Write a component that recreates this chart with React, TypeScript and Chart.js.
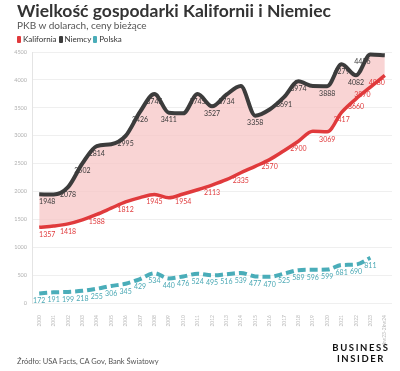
import React, { useEffect, useRef } from "react";
import { Chart, registerables } from "chart.js";

Chart.register(...registerables);

const categories = [
  "2000", "2001", "2002", "2003", "2004", "2005", "2006", "2007", "2008", "2009",
  "2010", "2011", "2012", "2013", "2014", "2015", "2016", "2017", "2018", "2019",
  "2020", "2021", "2022", "2023", "3kw23-2kw24",
];

const california = [
  1357, 1380, 1418, 1490, 1588, 1700, 1812, 1890, 1945, 1885,
  1954, 2030, 2113, 2210, 2335, 2450, 2570, 2730, 2900, 3080,
  3069, 3417, 3660, 3870, 4080,
];

const germany = [
  1948, 1945, 2078, 2502, 2814, 2846, 2995, 3426, 3745, 3411,
  3400, 3745, 3527, 3734, 3889, 3358, 3469, 3691, 3974, 3889,
  3888, 4279, 4082, 4456, 4440,
];

const poland = [
  172, 191, 199, 218, 255, 306, 345, 429, 534, 440,
  476, 524, 495, 516, 539, 477, 470, 525, 589, 596,
  599, 681, 690, 811, null,
];

const californiaShown = [0, 2, 4, 6, 8, 10, 12, 14, 16, 18, 20, 21, 22, 23, 24];
const germanyShown = [0, 2, 3, 4, 6, 7, 8, 9, 11, 12, 13, 15, 17, 18, 20, 21, 22, 23];
const polandShown = [
  0, 1, 2, 3, 4, 5, 6, 7, 8, 9, 10, 11, 12, 13, 14, 15, 16, 17, 18, 19, 20, 21, 22, 23,
];

const seriesNames = ["Kalifornia", "Niemcy", "Polska"];
const yTicks = { min: 0, max: 4500, step: 500 };

const RED = "#e03a3c";
const DARK = "#3c3c3c";
const TEAL = "#4aadb9";
const FILL = "rgba(247, 196, 196, 0.72)";

const labelPlugin = {
  id: "pointLabels",
  afterDatasetsDraw(chart: any) {
    const ctx = chart.ctx;
    const shownSets = [californiaShown, germanyShown, polandShown];
    const colors = [RED, "#3a3a3a", "#4aa8b4"];
    ctx.save();
    ctx.font = "7px Lato";
    ctx.textAlign = "center";
    ctx.textBaseline = "middle";
    const n = categories.length;
    chart.data.datasets.forEach((ds: any, di: number) => {
      const meta = chart.getDatasetMeta(di);
      ctx.fillStyle = colors[di];
      shownSets[di].forEach((i: number) => {
        const el = meta.data[i];
        const v = ds.data[i];
        if (!el || v == null) return;
        let dx = 0;
        if (di < 2) {
          if (i === 0) dx = 8;
          if (i >= n - 2) dx = -8;
        }
        ctx.fillText(String(v), el.x + dx, el.y + 7.5);
      });
    });
    ctx.restore();
  },
};

function ChartCanvas() {
  const ref = useRef<HTMLCanvasElement | null>(null);
  useEffect(() => {
    if (!ref.current) return;
    const chart = new Chart(ref.current, {
      type: "line",
      data: {
        labels: categories,
        datasets: [
          {
            label: seriesNames[0],
            data: california,
            borderColor: RED,
            borderWidth: 3.5,
            pointRadius: 0,
            cubicInterpolationMode: "monotone",
            fill: false,
          },
          {
            label: seriesNames[1],
            data: germany,
            borderColor: DARK,
            borderWidth: 4,
            pointRadius: 0,
            cubicInterpolationMode: "monotone",
            fill: { target: 0 },
            backgroundColor: FILL,
          },
          {
            label: seriesNames[2],
            data: poland,
            borderColor: TEAL,
            borderWidth: 4,
            borderDash: [8, 4],
            pointRadius: 0,
            cubicInterpolationMode: "monotone",
            fill: false,
          },
        ],
      } as any,
      options: {
        animation: false,
        responsive: false,
        maintainAspectRatio: false,
        layout: { padding: { left: 0, right: 8, top: 52, bottom: 26 } },
        plugins: {
          legend: { display: false },
          tooltip: { enabled: false },
          filler: { drawTime: "beforeDatasetsDraw" },
        } as any,
        scales: {
          x: {
            offset: true,
            grid: { display: false },
            border: { display: false },
            ticks: {
              autoSkip: false,
              maxRotation: 90,
              minRotation: 90,
              font: { size: 5, family: "Lato" },
              color: "#b8b8b8",
              padding: 4,
            },
            afterFit: (s: any) => {
              s.height = 42;
            },
          },
          y: {
            min: yTicks.min,
            max: yTicks.max,
            ticks: {
              stepSize: yTicks.step,
              font: { size: 5.5, family: "Lato" },
              color: "#b0b0b0",
              padding: 5,
              callback: (v: any) => String(v),
            },
            grid: { color: "#efefef", drawTicks: false },
            border: { color: "#e4e4e4" },
            afterFit: (s: any) => {
              s.width = 32;
            },
          },
        },
      } as any,
      plugins: [labelPlugin],
    });
    return () => chart.destroy();
  }, []);
  return (
    <canvas
      ref={ref}
      width={400}
      height={371}
      style={{ position: "absolute", left: 0, top: 0, width: 400, height: 371 }}
    />
  );
}

export default function App() {
  const legendColors = [RED, DARK, TEAL];
  return (
    <div
      style={{
        position: "absolute",
        left: 0,
        top: 0,
        width: 400,
        height: 371,
        background: "#fff",
        fontFamily: "Lato, sans-serif",
        overflow: "hidden",
      }}
    >
      <ChartCanvas />
      <div
        style={{
          position: "absolute",
          left: 17,
          top: 0,
          fontSize: 17.5,
          fontWeight: 700,
          color: "#333",
          whiteSpace: "nowrap",
        }}
      >
        Wielkość gospodarki Kalifornii i Niemiec
      </div>
      <div
        style={{
          position: "absolute",
          left: 17,
          top: 19,
          fontSize: 10,
          color: "#555",
          whiteSpace: "nowrap",
        }}
      >
        PKB w dolarach, ceny bieżące
      </div>
      <div
        style={{
          position: "absolute",
          left: 17,
          top: 34,
          fontSize: 8,
          color: "#333",
          display: "flex",
          alignItems: "center",
          whiteSpace: "nowrap",
        }}
      >
        {seriesNames.map((n, i) => (
          <span key={n} style={{ display: "flex", alignItems: "center", marginRight: 2 }}>
            <span
              style={{
                display: "inline-block",
                width: 4,
                height: 7,
                borderRadius: 1,
                background: legendColors[i],
                marginRight: 2,
              }}
            />
            {n}
          </span>
        ))}
      </div>
      <div
        style={{
          position: "absolute",
          left: 17,
          top: 357,
          fontSize: 7.5,
          color: "#555",
          whiteSpace: "nowrap",
        }}
      >
        Źródło: USA Facts, CA Gov, Bank Światowy
      </div>
      <div
        style={{
          position: "absolute",
          left: 328,
          top: 343,
          width: 66,
          textAlign: "center",
          fontSize: 9.5,
          fontWeight: 700,
          letterSpacing: 1.6,
          lineHeight: "10.5px",
          color: "#111",
        }}
      >
        <div>BUSINESS</div>
        <div>INSIDER</div>
      </div>
    </div>
  );
}
